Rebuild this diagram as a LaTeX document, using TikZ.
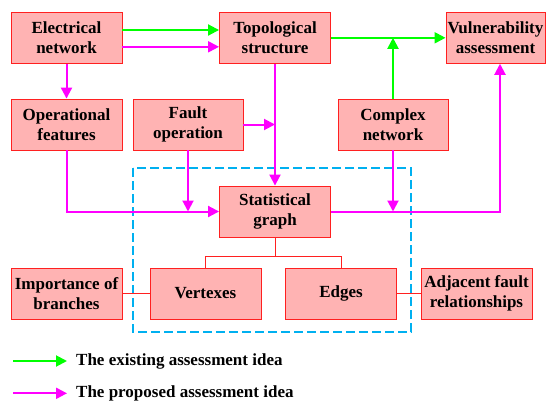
\documentclass[tikz,border=0pt]{standalone}
\usepackage{fontspec}
\setmainfont{Liberation Serif}
\usetikzlibrary{arrows.meta,calc}
\definecolor{boxfill}{HTML}{FFB3B3}
\definecolor{boxline}{HTML}{FF2020}
\definecolor{gr}{HTML}{00FF00}
\definecolor{mg}{HTML}{FF00FF}
\definecolor{bl}{HTML}{00B0F0}
\tikzset{
  blk/.style={draw=boxline,fill=boxfill,line width=0.9pt,minimum width=111pt,minimum height=51pt,
    inner sep=0pt,align=center,font=\fontsize{17}{20}\selectfont\bfseries},
  garr/.style={draw=gr,line width=2pt,-{Triangle[length=11pt,width=11pt]}},
  marr/.style={draw=mg,line width=2pt,-{Triangle[length=11pt,width=11pt]}},
  mline/.style={draw=mg,line width=2pt},
  rline/.style={draw=boxline,line width=0.9pt},
  frame/.style={draw=bl,line width=2pt,dash pattern=on 9pt off 4pt},
  legtxt/.style={anchor=west,inner sep=0pt,font=\fontsize{17}{20}\selectfont\bfseries}
}
\begin{document}
\begin{tikzpicture}[x=1pt,y=-1pt]
\useasboundingbox (0,0) rectangle (546,402);
\draw[frame] (133,168) rectangle (411,332);
\node[blk] (elec) at (66.5,37.8) {Electrical\\network};
\node[blk] (topo) at (275,37.8) {Topological\\structure};
\node[blk,minimum width=99pt] (vuln) at (495.5,37.8) {Vulnerability\\assessment};
\node[blk] (opf) at (66.5,124.5) {Operational\\features};
\node[blk,minimum width=110pt] (fault) at (188,124.5) {Fault\\operation};
\node[blk,minimum width=110pt] (complex) at (393,124.5) {Complex\\network};
\node[blk] (stat) at (275,211.5) {Statistical\\graph};
\node[blk] (imp) at (66.5,293.5) {Importance of\\branches};
\node[blk] (vert) at (205.5,293.5) {Vertexes};
\node[blk] (edges) at (341,293.5) {Edges};
\node[blk] (adj) at (476.5,293.5) {Adjacent fault\\relationships};
% existing idea
\draw[garr] ($(elec.east)+(0,-7.8)$) -- ($(topo.west)+(0,-7.8)$);
\draw[garr] (topo.east) -- (vuln.west);
\draw[garr] (complex.north) -- (complex.north |- topo.east);
% proposed idea
\draw[marr] ($(elec.east)+(0,9)$) -- ($(topo.west)+(0,9)$);
\draw[marr] (elec.south) -- (opf.north);
\draw[marr] (fault.east) -- (topo.south |- fault.east);
\draw[marr] (topo.south) -- (stat.north);
\draw[marr] (opf.south) |- (stat.west);
\draw[marr] (fault.south) -- (fault.south |- stat.west);
\draw[marr] (stat.east) -| ($(vuln.south)+(4.5,0)$);
\draw[marr] (complex.south) -- (complex.south |- stat.east);
% graph structure
\coordinate (br) at ($(stat.south)+(0,18.5)$);
\draw[rline] (stat.south) -- (br);
\draw[rline] (vert.north) |- (br) -| (edges.north);
\draw[rline] (imp.east) -- (vert.west);
\draw[rline] (edges.east) -- (adj.west);
% legend
\coordinate (g1) at (13,361);
\coordinate (g2) at (67,361);
\coordinate (m1) at (13,393.3);
\coordinate (m2) at (67,393.3);
\draw[garr] (g1) -- (g2);
\draw[marr] (m1) -- (m2);
\node[legtxt] (lg) at (76,361) {The existing assessment idea};
\node[legtxt] (lm) at (76,393.3) {The proposed assessment idea};
\end{tikzpicture}
\end{document}
